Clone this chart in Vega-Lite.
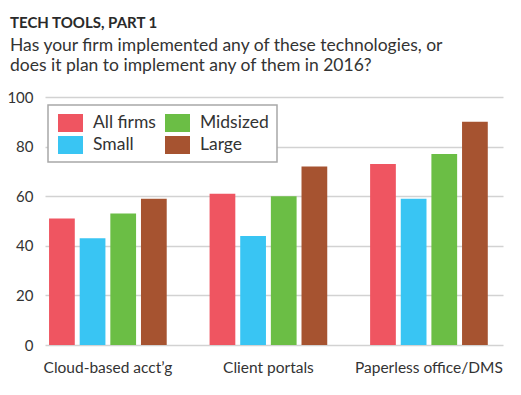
{
  "$schema": "https://vega.github.io/schema/vega-lite/v6.json",
  "autosize": {"type": "none"},
  "width": 458,
  "height": 248,
  "padding": {"left": 45, "top": 97, "right": 18, "bottom": 50},
  "background": "white",
  "title": {
    "text": "TECH TOOLS, PART 1",
    "subtitle": ["Has your firm implemented any of these technologies, or", "does it plan to implement any of them in 2016?"],
    "anchor": "start",
    "frame": "group",
    "dx": -35,
    "offset": 16,
    "font": "Lato",
    "fontSize": 15,
    "fontWeight": "bold",
    "color": "#2a2a2a",
    "subtitleFont": "Lato",
    "subtitleFontSize": 17.5,
    "subtitleColor": "#333333",
    "subtitleLineHeight": 20,
    "subtitlePadding": 6
  },
  "data": {
    "values": [
      {"tech": "Cloud-based acct’g", "group": "All firms", "value": 51},
      {"tech": "Cloud-based acct’g", "group": "Small", "value": 43},
      {"tech": "Cloud-based acct’g", "group": "Midsized", "value": 53},
      {"tech": "Cloud-based acct’g", "group": "Large", "value": 59},
      {"tech": "Client portals", "group": "All firms", "value": 61},
      {"tech": "Client portals", "group": "Small", "value": 44},
      {"tech": "Client portals", "group": "Midsized", "value": 60},
      {"tech": "Client portals", "group": "Large", "value": 72},
      {"tech": "Paperless office/DMS", "group": "All firms", "value": 73},
      {"tech": "Paperless office/DMS", "group": "Small", "value": 59},
      {"tech": "Paperless office/DMS", "group": "Midsized", "value": 77},
      {"tech": "Paperless office/DMS", "group": "Large", "value": 90}
    ]
  },
  "mark": {"type": "bar"},
  "encoding": {
    "x": {
      "field": "tech",
      "type": "nominal",
      "sort": ["Cloud-based acct’g", "Client portals", "Paperless office/DMS"],
      "scale": {"paddingInner": 0.267, "paddingOuter": 0.06, "align": 0.21},
      "axis": {"title": null, "labelAngle": 0, "domain": false, "ticks": false, "labelFont": "Lato", "labelFontSize": 15.5, "labelColor": "#333333", "labelPadding": 15}
    },
    "xOffset": {
      "field": "group",
      "type": "nominal",
      "sort": ["All firms", "Small", "Midsized", "Large"],
      "scale": {"paddingInner": 0.16, "paddingOuter": 0}
    },
    "y": {
      "field": "value",
      "type": "quantitative",
      "scale": {"domain": [0, 100], "nice": false},
      "axis": {"title": null, "values": [0, 20, 40, 60, 80, 100], "domain": false, "ticks": false, "grid": true, "gridColor": "#d2d2d2", "gridWidth": 1.5, "labelFont": "Lato", "labelFontSize": 15, "labelColor": "#333333", "labelPadding": 12}
    },
    "color": {
      "field": "group",
      "type": "nominal",
      "scale": {"domain": ["All firms", "Midsized", "Small", "Large"], "range": ["#EF5561", "#6BBE45", "#39C5F3", "#A65330"]},
      "legend": {
        "title": null,
        "orient": "none",
        "legendX": 3,
        "legendY": 8,
        "direction": "horizontal",
        "columns": 2,
        "padding": 8,
        "rowPadding": 3,
        "columnPadding": 7,
        "strokeColor": "#a8a8a8",
        "fillColor": "white",
        "symbolType": "M-0.8,-0.9L1.7,-0.9L1.7,0.9L-0.8,0.9Z",
        "symbolSize": 400,
        "symbolStrokeWidth": 0,
        "symbolOpacity": 1,
        "labelFont": "Lato",
        "labelFontSize": 17.5,
        "labelColor": "#333333",
        "labelOffset": 17,
        "encode": {"legend": {"update": {"strokeWidth": {"value": 1.5}}}}
      }
    }
  },
  "config": {"view": {"stroke": null}}
}
